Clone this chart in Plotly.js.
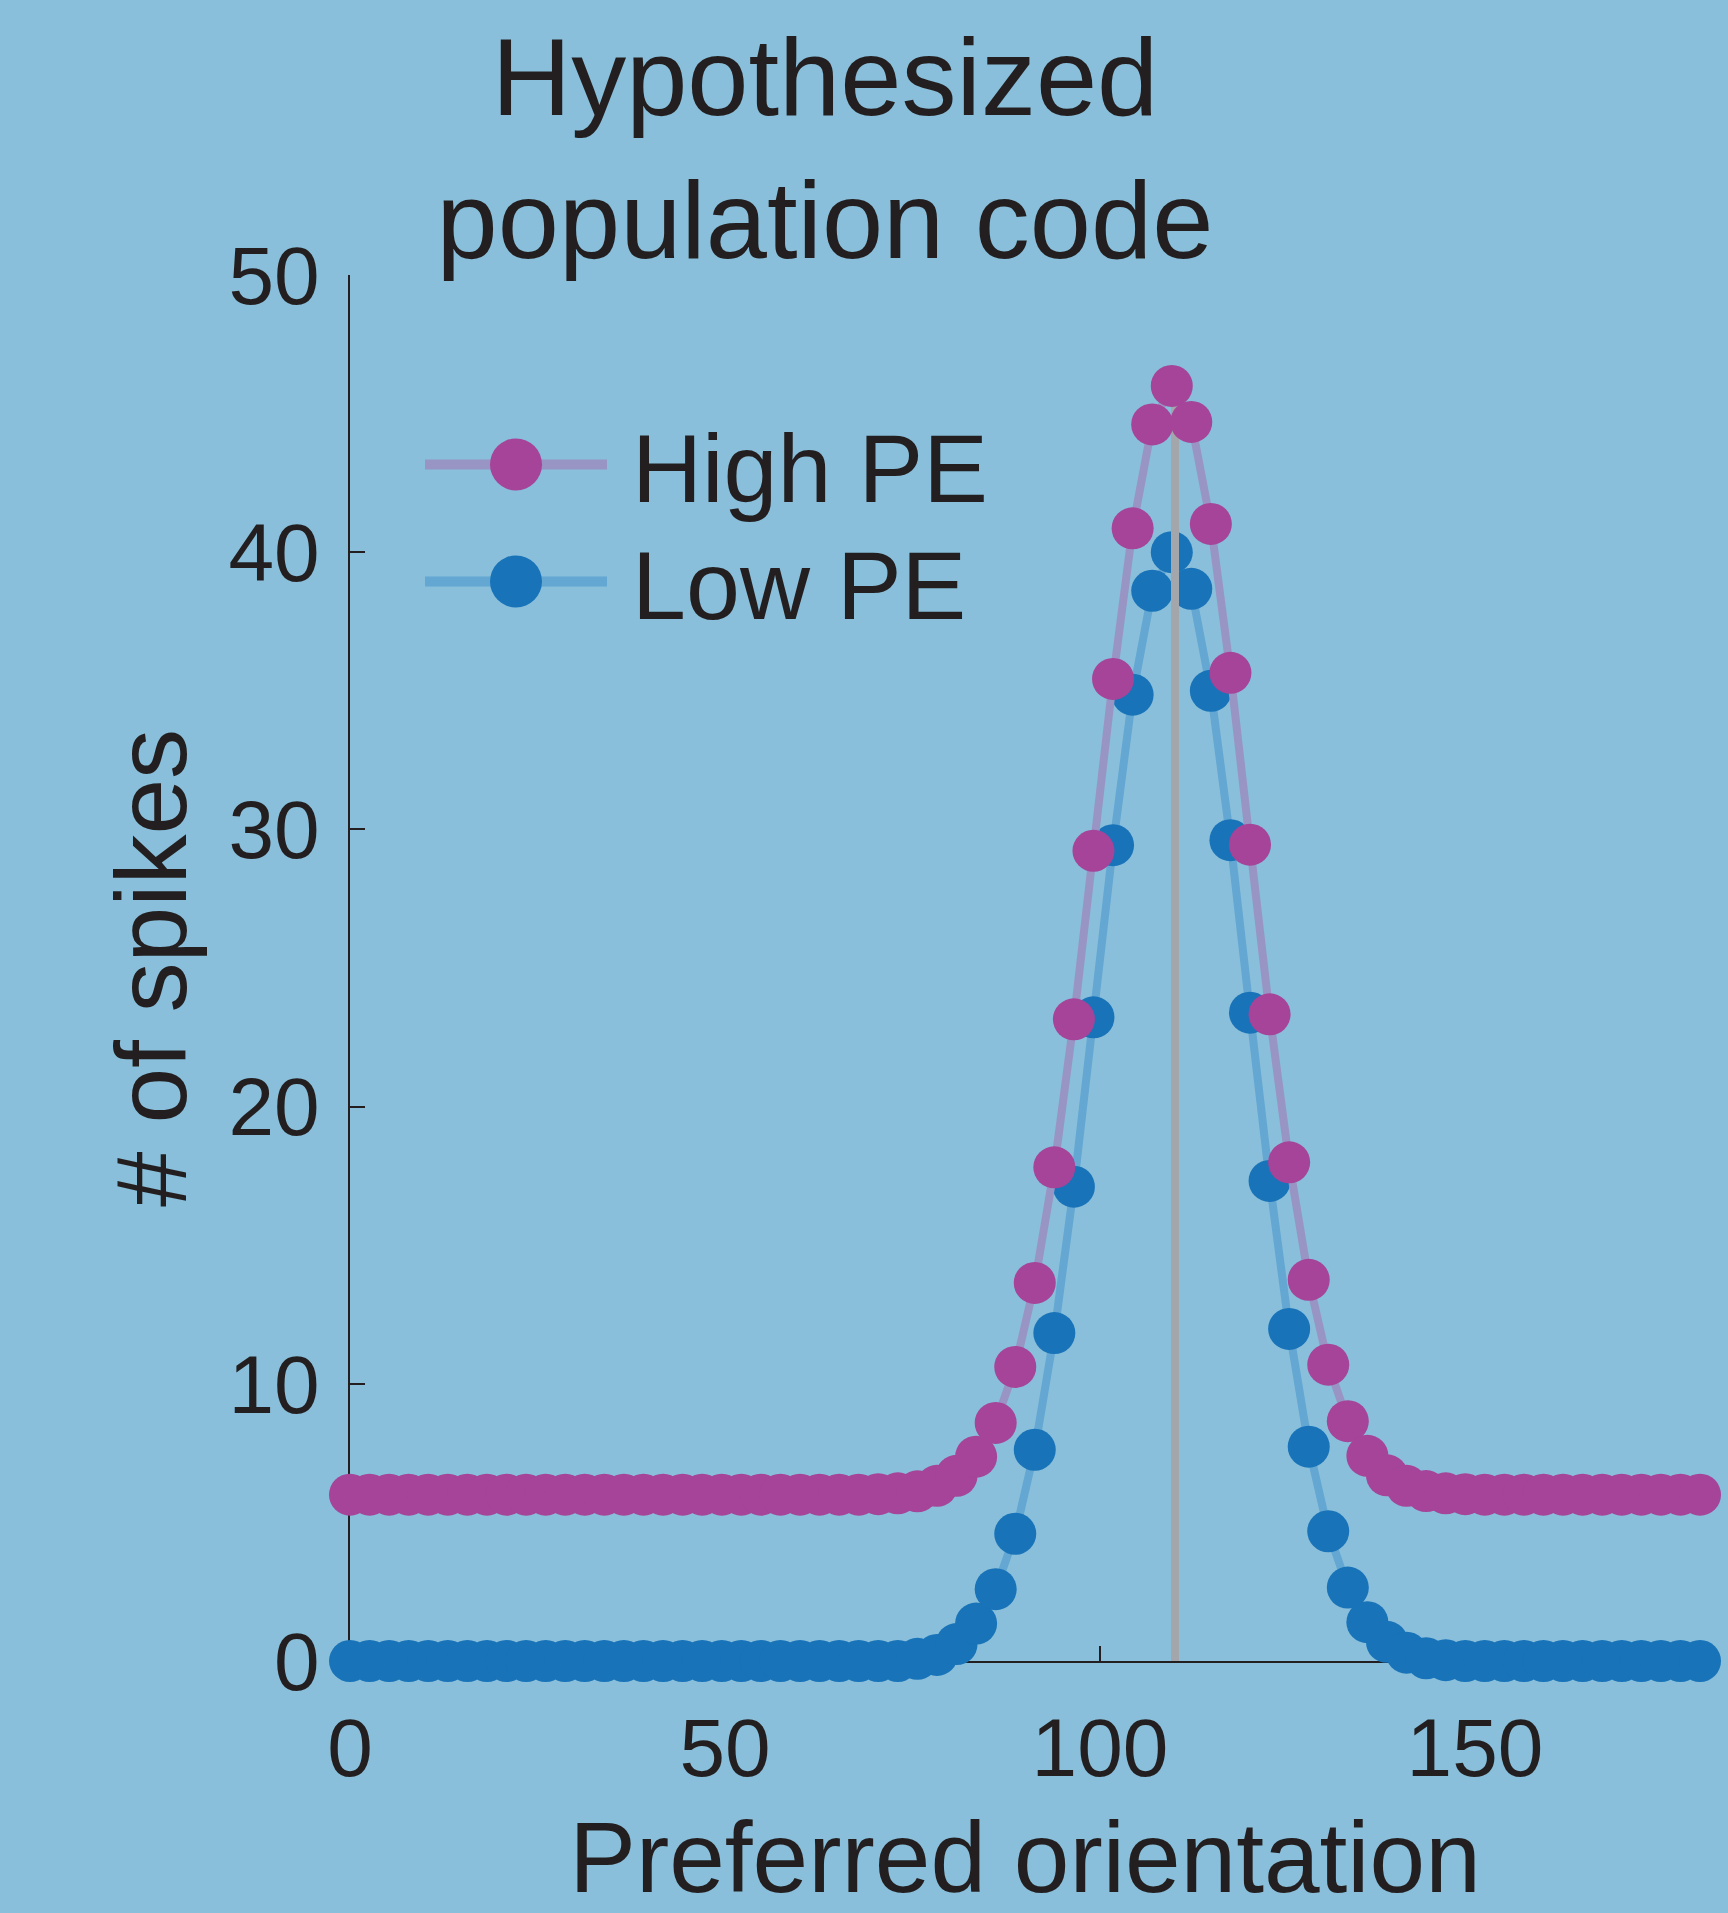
<!DOCTYPE html>
<html>
<head>
<meta charset="utf-8">
<script src="https://cdn.plot.ly/plotly-3.0.1.min.js"></script>
<style>
  html, body { margin: 0; padding: 0; background: #89BFDA; }
  #chart { width: 1728px; height: 1913px; }
</style>
</head>
<body>
<div id="chart"></div>
<script>
// Preferred orientation of each neuron (deg)
const orientation = [0, 2.61, 5.22, 7.83, 10.43, 13.04, 15.65, 18.26, 20.87, 23.48,
  26.09, 28.70, 31.30, 33.91, 36.52, 39.13, 41.74, 44.35, 46.96, 49.57,
  52.17, 54.78, 57.39, 60.00, 62.61, 65.22, 67.83, 70.43, 73.04, 75.65,
  78.26, 80.87, 83.48, 86.09, 88.70, 91.30, 93.91, 96.52, 99.13, 101.74,
  104.35, 106.96, 109.57, 112.17, 114.78, 117.39, 120.00, 122.61, 125.22, 127.83,
  130.43, 133.04, 135.65, 138.26, 140.87, 143.48, 146.09, 148.70, 151.30, 153.91,
  156.52, 159.13, 161.74, 164.35, 166.96, 169.57, 172.17, 174.78, 177.39, 180.00];

// # of spikes, High PE
const highPE = [6, 6, 6, 6, 6, 6, 6, 6, 6, 6,
  6, 6, 6, 6, 6, 6, 6, 6, 6, 6,
  6, 6, 6, 6, 6, 6, 6, 6.02, 6.05, 6.12,
  6.32, 6.68, 7.37, 8.59, 10.61, 13.64, 17.81, 23.15, 29.23, 35.43,
  40.86, 44.61, 46.0, 44.70, 41.02, 35.65, 29.45, 23.33, 17.99, 13.75,
  10.69, 8.65, 7.40, 6.70, 6.32, 6.13, 6.05, 6.02, 6, 6,
  6, 6, 6, 6, 6, 6, 6, 6, 6, 6];

// # of spikes, Low PE
const lowPE = [0, 0, 0, 0, 0, 0, 0, 0, 0, 0,
  0, 0, 0, 0, 0, 0, 0, 0, 0, 0,
  0, 0, 0, 0, 0, 0, 0, 0, 0, 0.08,
  0.22, 0.61, 1.35, 2.59, 4.59, 7.62, 11.83, 17.11, 23.22, 29.43,
  34.86, 38.61, 40.0, 38.68, 35.0, 29.61, 23.39, 17.32, 11.98, 7.73,
  4.68, 2.65, 1.40, 0.69, 0.30, 0.10, 0.03, 0, 0, 0,
  0, 0, 0, 0, 0, 0, 0, 0, 0, 0];

// Presented stimulus orientation (deg)
const stimulus = 110;

const seriesNames = ['High PE', 'Low PE'];
const xTicks = [0, 50, 100, 150];
const yTicks = [0, 10, 20, 30, 40, 50];

const FONT = 'Liberation Sans, Arial, Helvetica, sans-serif';
const INK = '#231F20';
const BG = '#89BFDA';

const traces = [
  {
    x: orientation, y: lowPE, name: seriesNames[1], type: 'scatter', mode: 'lines+markers',
    line: { color: '#63A7D2', width: 8 },
    marker: { color: '#1873B9', size: 42, line: { width: 0 } },
    legendrank: 2, cliponaxis: false
  },
  {
    x: [stimulus, stimulus], y: [0, Math.max(...highPE)], type: 'scatter', mode: 'lines',
    line: { color: '#A3A6AA', width: 8 }, showlegend: false, hoverinfo: 'skip', cliponaxis: false
  },
  {
    x: orientation, y: highPE, name: seriesNames[0], type: 'scatter', mode: 'lines+markers',
    line: { color: '#9895C4', width: 8 },
    marker: { color: '#A54499', size: 42, line: { width: 0 } },
    legendrank: 1, cliponaxis: false
  }
];

const L = 350, R = 28, T = 274.6, B = 252;
const plotH = 1913 - T - B;

const layout = {
  width: 1728, height: 1913,
  paper_bgcolor: BG, plot_bgcolor: BG,
  margin: { l: L, r: R, t: T, b: B, pad: 0 },
  font: { family: FONT, color: INK },
  title: {
    text: 'Hypothesized<br>population code',
    font: { family: FONT, size: 110, color: INK },
    xref: 'container', x: 825 / 1728, xanchor: 'center',
    yref: 'container', y: 1 - 115 / 1913, yanchor: 'top'
  },
  xaxis: {
    range: [0, 180], tickvals: xTicks, ticktext: xTicks.map(String),
    ticks: 'inside', ticklen: 15, tickwidth: 2, tickcolor: INK,
    showline: true, linecolor: INK, linewidth: 2, showgrid: false, zeroline: false,
    layer: 'below traces', ticklabelstandoff: 15,
    tickfont: { family: FONT, size: 82, color: INK },
    title: { text: 'Preferred orientation', font: { family: FONT, size: 100, color: INK }, standoff: 30 },
    automargin: false, fixedrange: true
  },
  yaxis: {
    range: [0, 50], tickvals: yTicks, ticktext: yTicks.map(String),
    ticks: 'inside', ticklen: 15, tickwidth: 2, tickcolor: INK,
    showline: true, linecolor: INK, linewidth: 2, showgrid: false, zeroline: false,
    layer: 'below traces', ticklabelstandoff: 12,
    tickfont: { family: FONT, size: 82, color: INK },
    title: { text: '# of spikes', font: { family: FONT, size: 100, color: INK }, standoff: 8 },
    automargin: false, fixedrange: true
  },
  showlegend: true,
  legend: {
    x: (420 - L) / 1350, xanchor: 'left',
    y: 1 - (394.5 - T) / plotH, yanchor: 'top',
    bgcolor: 'rgba(0,0,0,0)', borderwidth: 0,
    font: { family: FONT, size: 97, color: INK },
    itemwidth: 202, traceorder: 'normal'
  }
};

Plotly.newPlot('chart', traces, layout, { displayModeBar: false, staticPlot: true }).then(function (gd) {
  // Enlarge legend symbols to match the figure style
  const items = gd.querySelectorAll('.legend .traces');
  let y0 = null;
  items.forEach(function (g, k) {
    const line = g.querySelector('.legendlines path');
    if (line) { line.setAttribute('d', 'M5,0h182'); line.style.strokeWidth = '10px'; }
    g.querySelectorAll('.legendpoints path.scatterpts').forEach(function (p) {
      p.setAttribute('d', 'M26,0A26,26 0 1,1 0,-26A26,26 0 0,1 26,0Z');
      p.setAttribute('transform', 'translate(96,0)');
    });
    const tr = g.getAttribute('transform') || '';
    const m = tr.match(/translate\(([-\d.]+)[ ,]*([-\d.]+)?\)/);
    if (m) {
      const tx = parseFloat(m[1]); const ty = parseFloat(m[2] || 0);
      if (y0 === null) y0 = ty;
      g.setAttribute('transform', 'translate(' + tx + ',' + (y0 + k * 117) + ')');
    }
  });
});
</script>
</body>
</html>
